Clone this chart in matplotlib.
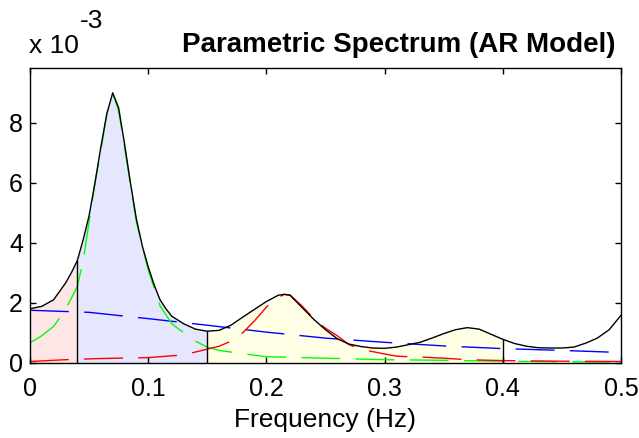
import matplotlib.pyplot as plt
import numpy as np

plt.rcParams['font.family'] = ['Liberation Sans', 'DejaVu Sans']

# Total AR spectrum (PSD in units of 1e-3 s^2/Hz)
freq = [0, 0.01, 0.02, 0.03, 0.035, 0.04, 0.045, 0.05, 0.055, 0.06, 0.065,
        0.07, 0.075, 0.08, 0.085, 0.09, 0.095, 0.10, 0.105, 0.11, 0.115,
        0.12, 0.13, 0.14, 0.15, 0.16, 0.17, 0.18, 0.19, 0.20, 0.21, 0.215,
        0.22, 0.23, 0.24, 0.25, 0.26, 0.27, 0.28, 0.29, 0.30, 0.31, 0.32,
        0.33, 0.34, 0.35, 0.36, 0.37, 0.38, 0.39, 0.40, 0.41, 0.42, 0.43,
        0.44, 0.45, 0.46, 0.47, 0.48, 0.49, 0.50]
psd = [1.80, 1.88, 2.10, 2.65, 3.00, 3.40, 4.10, 4.90, 6.00, 7.20, 8.30,
       9.00, 8.50, 7.30, 6.00, 4.80, 3.90, 3.20, 2.60, 2.10, 1.80,
       1.55, 1.30, 1.12, 1.05, 1.08, 1.25, 1.52, 1.78, 2.04, 2.25, 2.28,
       2.25, 1.85, 1.45, 1.10, 0.80, 0.62, 0.54, 0.49, 0.48, 0.52, 0.60,
       0.68, 0.82, 0.97, 1.10, 1.17, 1.12, 0.95, 0.78, 0.64, 0.55, 0.50,
       0.49, 0.49, 0.52, 0.65, 0.82, 1.10, 1.58]

# AR model components
vlf_freq = [0, 0.05, 0.10, 0.15, 0.20, 0.25, 0.30, 0.35, 0.40, 0.45, 0.50]
vlf_psd = [1.75, 1.68, 1.47, 1.25, 1.02, 0.82, 0.68, 0.56, 0.47, 0.41, 0.34]

lf_freq = [0, 0.01, 0.02, 0.03, 0.04, 0.045, 0.05, 0.055, 0.06, 0.065, 0.07,
           0.075, 0.08, 0.09, 0.10, 0.11, 0.12, 0.13, 0.14, 0.15, 0.16, 0.18,
           0.20, 0.25, 0.30, 0.35, 0.40, 0.45, 0.50]
lf_psd = [0.66, 0.90, 1.21, 1.77, 2.54, 3.40, 4.70, 6.00, 7.10, 8.30, 9.00,
          8.40, 7.20, 4.70, 3.10, 1.90, 1.30, 1.00, 0.72, 0.52, 0.41, 0.30,
          0.20, 0.15, 0.10, 0.08, 0.05, 0.03, 0.02]

hf_freq = [0, 0.03, 0.06, 0.10, 0.13, 0.16, 0.175, 0.19, 0.20, 0.205, 0.215,
           0.22, 0.23, 0.24, 0.25, 0.26, 0.27, 0.28, 0.29, 0.30, 0.31, 0.32,
           0.33, 0.35, 0.37, 0.40, 0.45, 0.50]
hf_psd = [0.04, 0.10, 0.14, 0.17, 0.26, 0.55, 0.80, 1.40, 1.85, 2.05, 2.28,
          2.26, 1.90, 1.48, 1.15, 0.90, 0.60, 0.45, 0.37, 0.29, 0.22, 0.20,
          0.19, 0.15, 0.10, 0.07, 0.05, 0.04]

bands = [(0.0, 0.04, (1.0, 0.9, 0.9)),
         (0.04, 0.15, (0.9, 0.9, 1.0)),
         (0.15, 0.40, (1.0, 1.0, 0.9))]

f = np.array(freq)
p = np.array(psd)

fig = plt.figure(figsize=(6.39, 4.38), dpi=100)
ax = fig.add_axes([0.0469, 0.1719, 0.9249, 0.6735])

# shaded bands under the spectrum
for lo, hi, col in bands:
    m = (f >= lo - 1e-9) & (f <= hi + 1e-9)
    ax.fill_between(f[m], 0, p[m], color=col, lw=0, zorder=1)

dash = (28, 11)
ax.plot(vlf_freq, vlf_psd, color='b', lw=1.0, dashes=dash, zorder=2)
ax.plot(lf_freq, lf_psd, color='#00ff00', lw=1.0, dashes=dash, zorder=2)
ax.plot(hf_freq, hf_psd, color='r', lw=1.0, dashes=dash, zorder=2)

ax.plot(f, p, color='k', lw=1.0, zorder=3)

# band edges
for edge in [0.04, 0.15, 0.40]:
    i = int(np.argmin(np.abs(f - edge)))
    ax.plot([edge, edge], [0, p[i]], color='k', lw=1.0, zorder=3)

ax.set_xlim(0, 0.5)
ax.set_ylim(0, 9.84)
ax.set_xticks([0, 0.1, 0.2, 0.3, 0.4, 0.5])
ax.set_xticklabels(['0', '0.1', '0.2', '0.3', '0.4', '0.5'])
ax.set_yticks([0, 2, 4, 6, 8])
ax.tick_params(direction='in', top=True, right=True, length=4, width=1,
               labelsize=18)
ax.tick_params(axis='x', pad=10)
ax.tick_params(axis='y', pad=5)
for s in ax.spines.values():
    s.set_linewidth(1.0)

ax.set_xlabel('Frequency (Hz)', fontsize=19, labelpad=5)

fig.text(399 / 639, 1 - 52 / 438, 'Parametric Spectrum (AR Model)',
         fontsize=20, fontweight='bold', ha='center', va='baseline')
fig.text(29 / 639, 1 - 53 / 438, 'x 10', fontsize=19, ha='left',
         va='baseline')
fig.text(80 / 639, 1 - 28 / 438, '-3', fontsize=19, ha='left',
         va='baseline')

fig.savefig('out.png', dpi=100)
